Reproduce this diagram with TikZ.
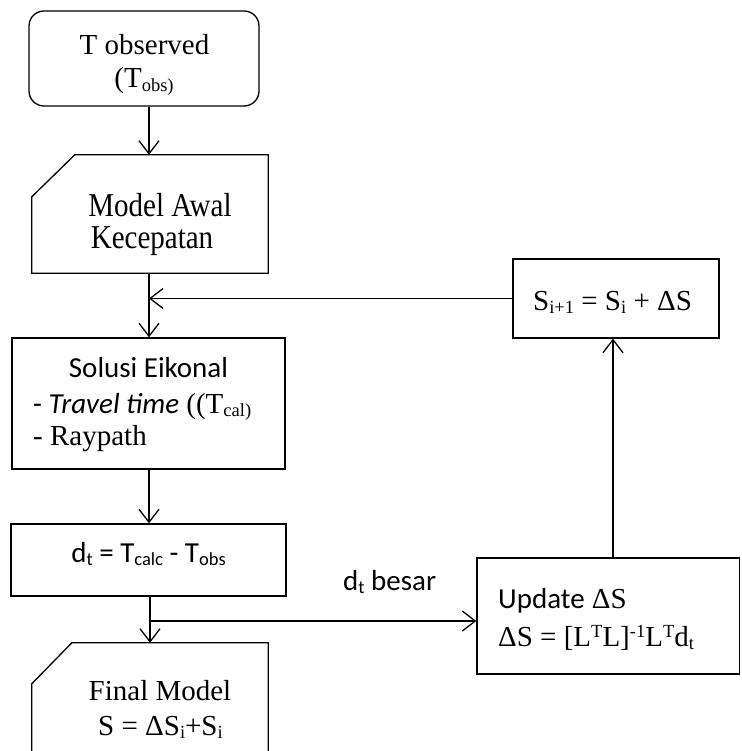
\documentclass[tikz,border=0pt]{standalone}
\usepackage{fontspec}
\usepackage{graphicx}
\setmainfont{Liberation Serif}
\newfontfamily\calib{Carlito}
\usetikzlibrary{arrows.meta}
\newcommand\sbs[1]{\raisebox{-3.5pt}{\fontsize{18.5}{18.5}\selectfont #1}}
\newcommand\sps[1]{\raisebox{9pt}{\fontsize{18.5}{18.5}\selectfont #1}}
\newcommand\tallt[1]{\scalebox{1}[1.15]{#1}}
\tikzset{
  box/.style={draw, rectangle, line width=1.3pt},
  ghost/.style={rectangle, draw=none},
  txt/.style={inner sep=0pt, font=\fontsize{29}{35}\selectfont},
  arr/.style={line width=1.3pt, -{Straight Barb[length=13pt,width=20pt]}},
  ln/.style={line width=1.3pt},
}
\begin{document}
\begin{tikzpicture}[x=1pt,y=-1pt]
\useasboundingbox (0,0) rectangle (741,751);
\clip (0,0) rectangle (741,751);
\fill[white] (0,0) rectangle (741,751);
% boxes
\node[box, rounded corners=15pt, minimum width=230, minimum height=95] (obs) at (144,58.5) {};
\node[ghost, minimum width=236, minimum height=118] (model) at (150,214) {};
\draw[ln] ([xshift=43pt]model.north west) -- (model.north east) -- (model.south east) -- (model.south west) -- ([yshift=-42pt]model.north west) -- cycle;
\node[box, minimum width=273, minimum height=131] (sol) at (148.5,403.5) {};
\node[box, minimum width=275, minimum height=72] (dt) at (148.5,560) {};
\node[ghost, minimum width=236, minimum height=137] (final) at (150,711.5) {};
\draw[ln] ([xshift=40pt]final.north west) -- (final.north east) -- (final.south east) -- (final.south west) -- ([yshift=-41pt]final.north west) -- cycle;
\node[box, minimum width=262.5, minimum height=116] (upd) at (608.25,616) {};
\node[box, minimum width=206, minimum height=79] (snew) at (616,298.5) {};
% texts
\node[txt, anchor=base] (t1) at (144.5,55) {T observed};
\node[txt, anchor=base] (t2) at (144,88) {(T\sbs{obs)}};
\node[txt, anchor=base] (t3) at (160,217) {\tallt{Model Awal}};
\node[txt, anchor=base] (t4) at (152,248) {\tallt{Kecepatan}};
\node[txt, anchor=base] (t5) at (148.5,377) {\calib Solusi Eikonal};
\node[txt, anchor=base west] (t6) at (33,413) {{\calib - \itshape Travel time} ((T\sbs{cal)}};
\node[txt, anchor=base west] (t7) at (33,445) {- Raypath};
\node[txt, anchor=base] (t8) at (148.5,562) {\calib d\sbs{t} = T\sbs{calc} - T\sbs{obs}};
\node[txt, anchor=base] (t9) at (160,700) {Final Model};
\node[txt, anchor=base] (t10) at (160.5,735) {S = ΔS\sbs{i}+S\sbs{i}};
\node[txt, anchor=base west] (t11) at (343,590) {\calib d\sbs{t} besar};
\node[txt, anchor=base west] (t12) at (498,608) {{\calib Update} ΔS};
\node[txt, anchor=base west] (t13) at (498,646) {ΔS = [L\sps{T}L]\sps{-1}L\sps{T}d\sbs{t}};
\node[txt, anchor=base west] (t14) at (533,310) {S\sbs{i+1} = S\sbs{i} + ΔS};
% connectors
\coordinate (sp) at (149,0);
\coordinate (sp2) at (150,0);
\coordinate (up) at (613,0);
\coordinate (br) at (150,621);
\draw[arr] (obs.south -| sp) -- (model.north -| sp);
\draw[arr] (model.south -| sp) -- (sol.north -| sp);
\draw[arr] (snew.west) -- (snew.west -| sp);
\draw[arr] (sol.south -| sp) -- (dt.north -| sp);
\draw[arr] (dt.south -| sp2) -- (final.north -| sp2);
\draw[arr] (br) -- (br -| upd.west);
\draw[arr] (upd.north -| up) -- (snew.south -| up);
\end{tikzpicture}
\end{document}
